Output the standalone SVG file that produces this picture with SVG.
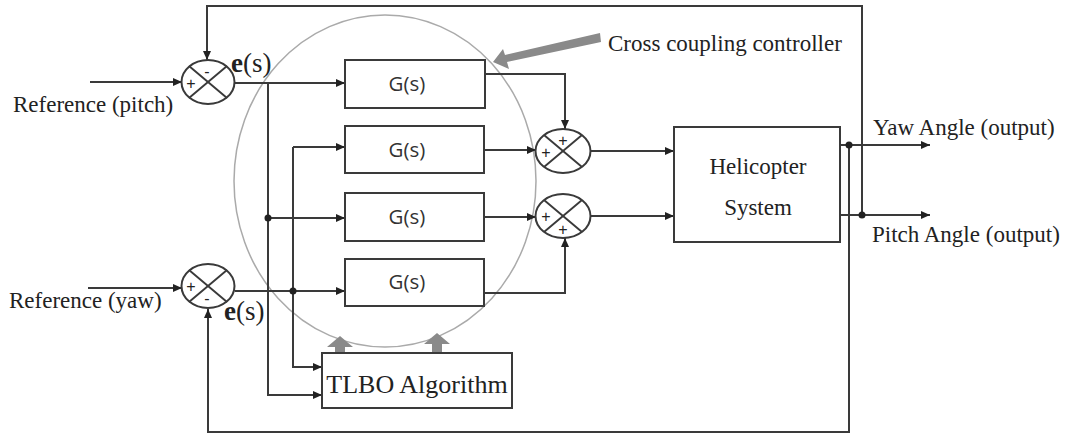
<svg xmlns="http://www.w3.org/2000/svg" width="1070" height="439" viewBox="0 0 1070 439">
<style>
.ln{fill:none;stroke:#3a3a3a;stroke-width:2}
.bx{fill:#fff;stroke:#3a3a3a;stroke-width:2}
.sm{fill:#fff;stroke:#3a3a3a;stroke-width:2}
.x{stroke:#3a3a3a;stroke-width:1.8}
.t{font-family:"Liberation Serif",serif;fill:#222}
.g{font-family:"Open Sans","Liberation Sans",sans-serif;font-size:20.5px;fill:#333;text-anchor:middle}
.pm{font-family:"Liberation Sans",sans-serif;font-size:16px;fill:#222;text-anchor:middle}
.fat{fill:#8a8a8a}
</style>
<defs>
<marker id="ah" markerUnits="userSpaceOnUse" markerWidth="10" markerHeight="8" refX="9" refY="4" orient="auto">
<path d="M0,0 L9,4 L0,8 z" fill="#222"/>
</marker>
</defs>
<rect width="1070" height="439" fill="#fff"/>

<ellipse id="cross-circle" cx="385" cy="181" rx="151" ry="166" fill="none" stroke="#aaa" stroke-width="1.5"/>

<g id="connectors">
<path class="ln" d="M90,82 H182" marker-end="url(#ah)"/>
<path class="ln" d="M88,288 H182" marker-end="url(#ah)"/>
<path class="ln" d="M862,215 V6 H207 V60" marker-end="url(#ah)"/>
<path class="ln" d="M849,145 V432 H208 V309" marker-end="url(#ah)"/>
<path class="ln" d="M235,83 H345" marker-end="url(#ah)"/>
<path class="ln" d="M268,83 V395 H322" marker-end="url(#ah)"/>
<path class="ln" d="M268,218 H345" marker-end="url(#ah)"/>
<path class="ln" d="M235,291 H345" marker-end="url(#ah)"/>
<path class="ln" d="M293,147 V367 H322" marker-end="url(#ah)"/>
<path class="ln" d="M293,147 H345" marker-end="url(#ah)"/>
<path class="ln" d="M485,74 H565 V129" marker-end="url(#ah)"/>
<path class="ln" d="M484,150 H536" marker-end="url(#ah)"/>
<path class="ln" d="M484,217 H536" marker-end="url(#ah)"/>
<path class="ln" d="M484,293 H565 V238" marker-end="url(#ah)"/>
<path class="ln" d="M591,151 H674" marker-end="url(#ah)"/>
<path class="ln" d="M591,216 H674" marker-end="url(#ah)"/>
<path class="ln" d="M840,145 H930" marker-end="url(#ah)"/>
<path class="ln" d="M840,215 H930" marker-end="url(#ah)"/>
<circle cx="268" cy="218" r="3.5" fill="#222"/>
<circle cx="293" cy="291" r="3.5" fill="#222"/>
<circle cx="849" cy="145" r="3.5" fill="#222"/>
<circle cx="862" cy="215" r="3.5" fill="#222"/>
<path class="fat" d="M600,33 L601,42 L507,62 L509,69 L493,62 L503,49 L505,55 Z"/>
<path class="fat" d="M335,362 V347 H327 L340,336 L353,347 H345 V362 Z"/>
<path class="fat" d="M432,361 V344 H424 L437,333 L450,344 H442 V361 Z"/>
</g>

<g id="sum-pitch">
<ellipse class="sm" cx="208" cy="82" rx="26.5" ry="22"/>
<line class="x" x1="189" y1="66" x2="227" y2="98"/>
<line class="x" x1="227" y1="66" x2="189" y2="98"/>
<text class="pm" x="207" y="77">-</text>
<text class="pm" x="191" y="89">+</text>
</g>
<g id="sum-yaw">
<ellipse class="sm" cx="208" cy="286" rx="26.5" ry="22"/>
<line class="x" x1="189" y1="270" x2="227" y2="302"/>
<line class="x" x1="227" y1="270" x2="189" y2="302"/>
<text class="pm" x="191" y="292">+</text>
<text class="pm" x="207" y="304">-</text>
</g>
<g id="sum-1">
<ellipse class="sm" cx="563" cy="151" rx="27.5" ry="22"/>
<line class="x" x1="544" y1="135" x2="582" y2="167"/>
<line class="x" x1="582" y1="135" x2="544" y2="167"/>
<text class="pm" x="563" y="146">+</text>
<text class="pm" x="546" y="158">+</text>
</g>
<g id="sum-2">
<ellipse class="sm" cx="563" cy="216" rx="27.5" ry="22"/>
<line class="x" x1="544" y1="200" x2="582" y2="232"/>
<line class="x" x1="582" y1="200" x2="544" y2="232"/>
<text class="pm" x="546" y="222">+</text>
<text class="pm" x="563" y="235">+</text>
</g>

<g id="g1"><rect class="bx" x="345" y="60" width="140" height="48"/><text class="g" x="407" y="91">G(s)</text></g>
<g id="g2"><rect class="bx" x="345" y="126" width="139" height="47"/><text class="g" x="407" y="157">G(s)</text></g>
<g id="g3"><rect class="bx" x="345" y="193" width="139" height="48"/><text class="g" x="407" y="224">G(s)</text></g>
<g id="g4"><rect class="bx" x="345" y="259" width="139" height="47"/><text class="g" x="407" y="289">G(s)</text></g>

<g id="tlbo"><rect class="bx" x="322" y="353" width="190" height="55"/><text class="t" x="417" y="393" font-size="26" text-anchor="middle">TLBO Algorithm</text></g>

<g id="heli"><rect class="bx" x="674" y="127" width="166" height="115"/>
<text class="t" x="758" y="174" font-size="23" text-anchor="middle">Helicopter</text>
<text class="t" x="758" y="215" font-size="23" text-anchor="middle">System</text></g>

<g id="labels">
<text class="t" x="13" y="112" font-size="23">Reference (pitch)</text>
<text class="t" x="9" y="308" font-size="23">Reference (yaw)</text>
<text class="t" x="231" y="72" font-size="27"><tspan font-weight="bold">e</tspan>(s)</text>
<text class="t" x="224" y="320" font-size="27"><tspan font-weight="bold">e</tspan>(s)</text>
<text class="t" x="608" y="51" font-size="23">Cross coupling controller</text>
<text class="t" x="873" y="135" font-size="23">Yaw Angle (output)</text>
<text class="t" x="872" y="242" font-size="23">Pitch Angle (output)</text>
</g>
</svg>
